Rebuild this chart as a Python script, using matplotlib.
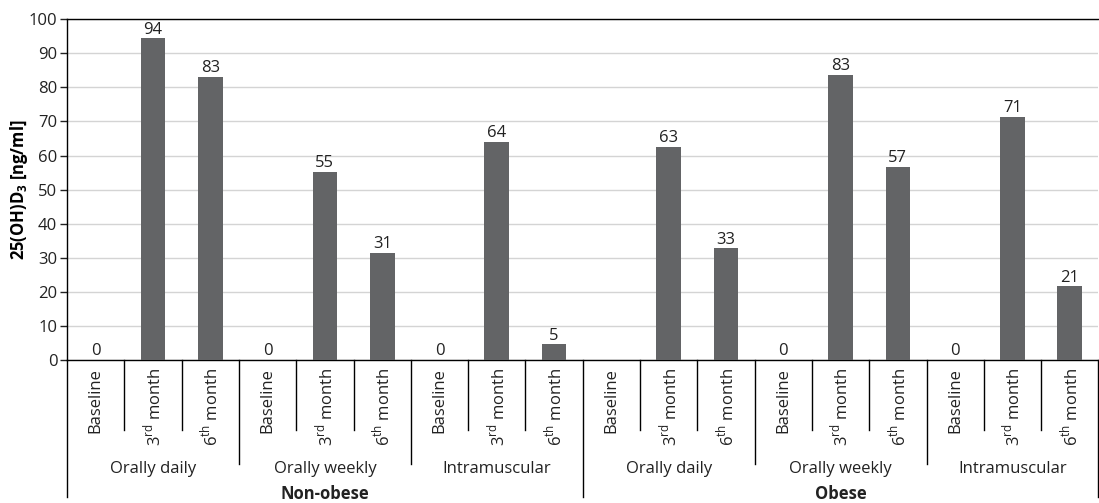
import matplotlib.pyplot as plt
import matplotlib.transforms as mtransforms
import numpy as np

plt.rcParams['font.family'] = ['Open Sans', 'DejaVu Sans']

# data
periods = ['Baseline', '3$^{\\mathregular{rd}}$ month', '6$^{\\mathregular{th}}$ month']
routes = ['Orally daily', 'Orally weekly', 'Intramuscular']
cohorts = ['Non-obese', 'Obese']
values = [0, 94.4, 83.1,   0, 55.3, 31.4,   0, 64.1, 4.6,
          None, 62.6, 32.8,   0, 83.6, 56.7,   0, 71.4, 21.6]
bar_labels = ['0', '94', '83', '0', '55', '31', '0', '64', '5',
              '', '63', '33', '0', '83', '57', '0', '71', '21']

bar_color = '#636466'
txt = '#222222'

fig = plt.figure(figsize=(10.99, 5.03), dpi=100)
ax = fig.add_axes([0.061, 0.284, 0.9385, 0.678])

n = len(values)
x = np.arange(n)
h = [v if v is not None else 0 for v in values]
ax.bar(x, h, width=0.43, color=bar_color, zorder=3)

for xi, v, lab in zip(x, h, bar_labels):
    if lab:
        ax.text(xi, v + 0.2, lab, ha='center', va='bottom', fontsize=12, color=txt)

ax.set_xlim(-0.5, n - 0.5)
ax.set_ylim(0, 100)
ax.set_yticks(range(0, 101, 10))
ax.tick_params(axis='y', labelsize=12, length=5, width=1, colors=txt, pad=2)
ax.set_xticks([])
ax.yaxis.grid(True, color='#d4d4d4', linewidth=1, zorder=0)
ax.set_axisbelow(True)
for s in ['left', 'bottom', 'top']:
    ax.spines[s].set_color('black')
    ax.spines[s].set_linewidth(1)
ax.spines['right'].set_visible(False)

ax.set_ylabel('25(OH)D$_\\mathregular{3}$ [ng/ml]', fontsize=12, fontweight='bold', labelpad=-1)

trans = mtransforms.blended_transform_factory(ax.transData, ax.transAxes)

# category labels
for i in range(n):
    ax.text(i, -0.022, periods[i % 3], rotation=90, ha='center', va='top',
            fontsize=12, transform=trans, color=txt)

# separators
for b in range(n + 1):
    xb = b - 0.5
    if b % 9 == 0:
        y0 = -0.40
    elif b % 3 == 0:
        y0 = -0.305
    else:
        y0 = -0.205
    ax.plot([xb, xb], [0, y0], color='black', lw=1, transform=trans, clip_on=False)

# route labels
for g in range(6):
    ax.text(g * 3 + 1, -0.318, routes[g % 3], ha='center', va='center',
            fontsize=12, transform=trans, color=txt)

# cohort labels
for c in range(2):
    ax.text(c * 9 + 4, -0.393, cohorts[c], ha='center', va='center',
            fontsize=12, fontweight='bold', transform=trans, color=txt)

fig.savefig('out.png', dpi=100)
